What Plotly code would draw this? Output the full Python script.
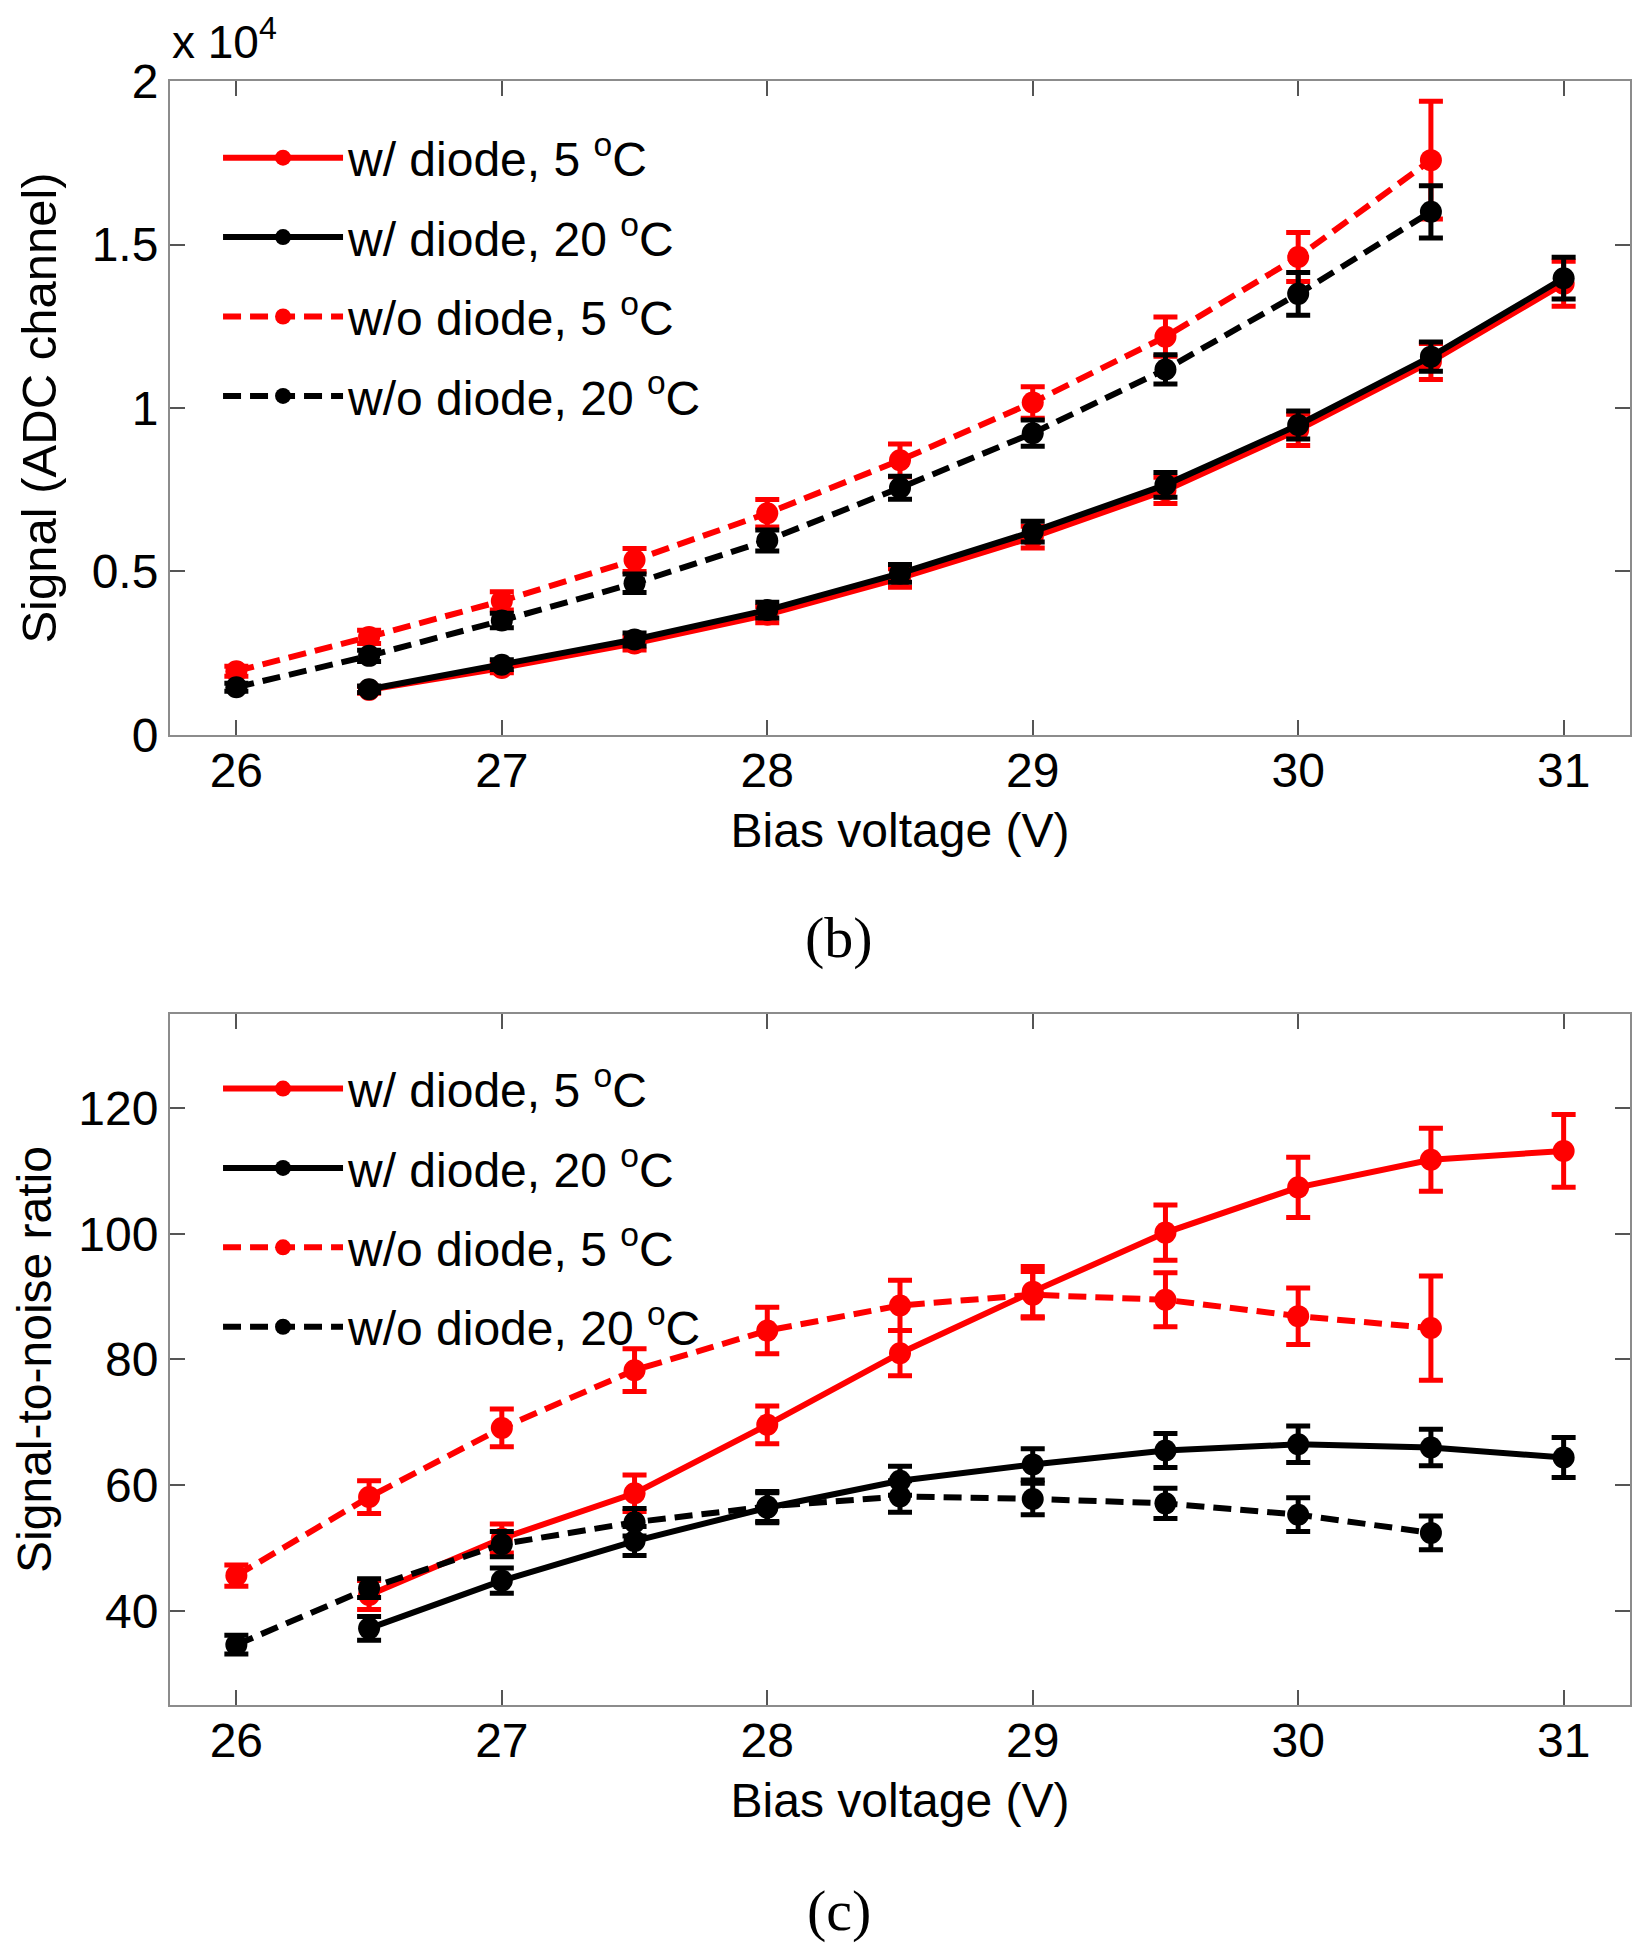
import plotly.graph_objects as go

# ---------------- data ----------------
bias_with_diode = [26.5, 27, 27.5, 28, 28.5, 29, 29.5, 30, 30.5, 31]
bias_without_diode = [26, 26.5, 27, 27.5, 28, 28.5, 29, 29.5, 30, 30.5]

# (b) Signal (ADC channel)
sig_wd_5 = [1380, 2050, 2800, 3680, 4800, 6050, 7480, 9330, 11420, 13800]
sig_wd_5_err = [100, 150, 200, 250, 280, 330, 400, 480, 550, 690]
sig_wd_20 = [1400, 2150, 2920, 3820, 4940, 6220, 7650, 9480, 11570, 13970]
sig_wd_20_err = [100, 150, 200, 240, 270, 320, 380, 430, 450, 640]
sig_wod_5 = [1950, 3000, 4100, 5350, 6780, 8400, 10170, 12180, 14620, 17580]
sig_wod_5_err = [150, 200, 280, 350, 420, 500, 480, 600, 750, 1800]
sig_wod_20 = [1460, 2420, 3500, 4640, 5950, 7560, 9230, 11180, 13490, 16000]
sig_wod_20_err = [120, 170, 220, 280, 320, 350, 400, 450, 650, 800]

# (c) Signal-to-noise ratio
snr_wd_5 = [42.5, 51.5, 58.7, 69.6, 81.0, 90.8, 100.2, 107.4, 111.8, 113.2]
snr_wd_5_err = [2.3, 2.3, 2.9, 3.0, 3.6, 4.0, 4.4, 4.8, 5.0, 5.8]
snr_wd_20 = [37.2, 44.8, 51.1, 56.4, 60.7, 63.3, 65.5, 66.5, 66.0, 64.4]
snr_wd_20_err = [1.9, 2.0, 2.3, 2.4, 2.3, 2.5, 2.7, 2.9, 2.9, 3.2]
snr_wod_5 = [45.6, 58.1, 69.1, 78.3, 84.6, 88.6, 90.3, 89.5, 86.9, 85.0]
snr_wod_5_err = [1.7, 2.6, 3.0, 3.4, 3.7, 4.0, 3.7, 4.3, 4.5, 8.3]
snr_wod_20 = [34.6, 43.6, 50.6, 54.1, 56.6, 58.2, 57.8, 57.1, 55.3, 52.4]
snr_wod_20_err = [1.5, 1.5, 2.0, 2.2, 2.4, 2.5, 2.5, 2.4, 2.7, 2.7]

series_names = ["w/ diode, 5 <sup>o</sup>C", "w/ diode, 20 <sup>o</sup>C",
                "w/o diode, 5 <sup>o</sup>C", "w/o diode, 20 <sup>o</sup>C"]

x_tickvals = [26, 27, 28, 29, 30, 31]
x_ticktext = ["26", "27", "28", "29", "30", "31"]
sig_tickvals = [0, 5000, 10000, 15000, 20000]
sig_ticktext = ["0", "0.5", "1", "1.5", "2"]
snr_tickvals = [40, 60, 80, 100, 120]
snr_ticktext = ["40", "60", "80", "100", "120"]

# ---------------- style ----------------
RED = "#ff0000"
BLACK = "#000000"
FONT = "Liberation Sans"
DASH = "18px,9px"
styles = [(RED, "solid"), (BLACK, "solid"), (RED, DASH), (BLACK, DASH)]

fig = go.Figure()


def add(xv, yv, ev, idx, xa, ya, leg):
    color, dash = styles[idx]
    fig.add_trace(go.Scatter(
        x=xv, y=yv, mode="lines+markers", name=series_names[idx],
        line=dict(color=color, width=6, dash=dash),
        marker=dict(color=color, size=22, symbol="circle"),
        error_y=dict(type="data", array=ev, visible=True, color=color,
                     thickness=5, width=12),
        xaxis=xa, yaxis=ya, legend=leg, legendgroup=leg + str(idx),
    ))


top = [(bias_with_diode, sig_wd_5, sig_wd_5_err), (bias_with_diode, sig_wd_20, sig_wd_20_err),
       (bias_without_diode, sig_wod_5, sig_wod_5_err), (bias_without_diode, sig_wod_20, sig_wod_20_err)]
bot = [(bias_with_diode, snr_wd_5, snr_wd_5_err), (bias_with_diode, snr_wd_20, snr_wd_20_err),
       (bias_without_diode, snr_wod_5, snr_wod_5_err), (bias_without_diode, snr_wod_20, snr_wod_20_err)]
for i, (a, b, c) in enumerate(top):
    add(a, b, c, i, "x", "y", "legend")
for i, (a, b, c) in enumerate(bot):
    add(a, b, c, i, "x2", "y2", "legend2")

axis_common = dict(
    showline=True, linecolor="#8c8c8c", linewidth=2, mirror="ticks",
    ticks="inside", ticklen=15, tickwidth=2, tickcolor="#555555",
    showgrid=False, zeroline=False,
    tickfont=dict(family=FONT, size=48, color="black"),
)

legend_common = dict(
    font=dict(family=FONT, size=48, color="black"),
    bgcolor="rgba(0,0,0,0)", borderwidth=0, itemwidth=120,
    tracegroupgap=14, xanchor="left", yanchor="top", itemclick=False,
)

# page body has an 8px margin: figure is sized/offset to place the plot box
fig.update_layout(
    width=1636, height=1942,
    margin=dict(l=162, r=14, t=73, b=245),
    paper_bgcolor="white", plot_bgcolor="white",
    font=dict(family=FONT, color="black"),
    showlegend=True,
    xaxis=dict(domain=[0, 1], anchor="y", range=[25.75, 31.25],
               tickvals=x_tickvals, ticktext=x_ticktext, ticklabelstandoff=-8,
               title=dict(text="Bias voltage (V)", font=dict(family=FONT, size=48), standoff=18),
               **axis_common),
    yaxis=dict(domain=[0.5973, 1], anchor="x", range=[0, 20000],
               tickvals=sig_tickvals, ticktext=sig_ticktext,
               title=dict(text="Signal (ADC channel)", font=dict(family=FONT, size=49), standoff=20),
               **axis_common),
    xaxis2=dict(domain=[0, 1], anchor="y2", range=[25.75, 31.25],
                tickvals=x_tickvals, ticktext=x_ticktext, ticklabelstandoff=-8,
                title=dict(text="Bias voltage (V)", font=dict(family=FONT, size=48), standoff=18),
                **axis_common),
    yaxis2=dict(domain=[0, 0.4255], anchor="x2", range=[25, 135],
                tickvals=snr_tickvals, ticktext=snr_ticktext,
                title=dict(text="Signal-to-noise ratio", font=dict(family=FONT, size=48), standoff=20),
                **axis_common),
    legend=dict(x=0.0329, y=0.976, **legend_common),
    legend2=dict(x=0.0329, y=0.4028, **legend_common),
    annotations=[
        dict(text="x 10<sup>4</sup>", xref="paper", yref="paper", x=0, y=1.0068,
             xanchor="left", yanchor="bottom", showarrow=False,
             font=dict(family=FONT, size=46, color="black")),
        dict(text="(b)", xref="paper", yref="paper", x=0.4582, y=0.4729,
             xanchor="center", yanchor="middle", showarrow=False,
             font=dict(family="Liberation Serif", size=58, color="black")),
        dict(text="(c)", xref="paper", yref="paper", x=0.4582, y=-0.1268,
             xanchor="center", yanchor="middle", showarrow=False,
             font=dict(family="Liberation Serif", size=58, color="black")),
    ],
)

fig.write_html("out.html")
